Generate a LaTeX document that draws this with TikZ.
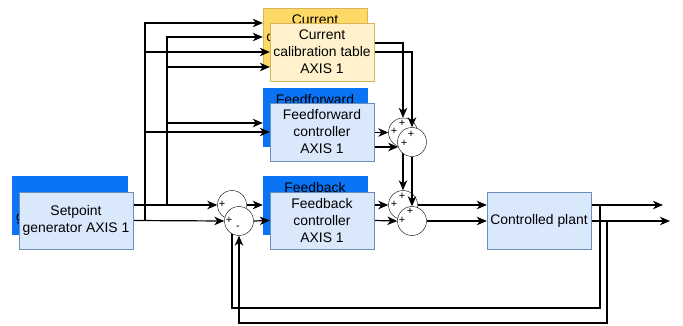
\documentclass[tikz,border=0pt]{standalone}
\usepackage{fontspec}
\setmainfont{Liberation Sans}
\usetikzlibrary{arrows.meta}
\pgfdeclarelayer{bg}
\pgfdeclarelayer{fg}
\pgfsetlayers{bg,main,fg}
\definecolor{paleblue}{HTML}{DAE8FC}
\definecolor{lineblue}{HTML}{6C8EBF}
\definecolor{deepblue}{HTML}{0A74F5}
\definecolor{paleyellow}{HTML}{FFF2CC}
\definecolor{gold}{HTML}{FFD966}
\definecolor{darkyellow}{HTML}{D6B656}

\begin{document}
\begin{tikzpicture}[
  x=1pt, y=-1pt,
  >={Stealth[length=10pt,width=8.5pt,inset=3pt]},
  every node/.style={font=\fontsize{13.9}{17}\selectfont},
  box/.style={rectangle, draw=lineblue, fill=paleblue, align=center, inner sep=0pt, minimum width=104pt, minimum height=57.5pt},
  shadowbox/.style={box, fill=deepblue, draw=deepblue},
  tablebox/.style={box, fill=paleyellow, draw=darkyellow},
  shadowtable/.style={box, fill=gold, draw=darkyellow},
  junction/.style={circle, draw, fill=white, minimum size=29pt, inner sep=0pt},
  pm/.style={font=\fontsize{11}{11}\selectfont, inner sep=0pt},
  wire/.style={->, line width=1.2pt}
]
\useasboundingbox (0,0) rectangle (683,326);

% front copy (AXIS 1)
\begin{pgfonlayer}{fg}
\node[box, minimum width=114pt] (spF) at (76,220.5) {Setpoint\\generator AXIS 1};
\node[tablebox] (tabF) at (322,52) {Current\\calibration table\\AXIS 1};
\node[box] (ffF) at (322,132) {Feedforward\\controller\\AXIS 1};
\node[box] (fbF) at (322,220.5) {Feedback\\controller\\AXIS 1};
\node[box] (plant) at (539,220.5) {Controlled plant};
\node[junction] (errF) at (239,221) {};
\node[junction] (ffsumF) at (412,142) {};
\node[junction] (usumF) at (412,221) {};
\node[pm] (errFa) at ([shift={(-10,-1)}]errF) {+};
\node[pm] (errFb) at ([shift={(-1,7)}]errF) {-};
\node[pm] (ffsumFa) at ([shift={(-1,-8)}]ffsumF) {+};
\node[pm] (ffsumFb) at ([shift={(-8,1)}]ffsumF) {+};
\node[pm] (usumFa) at ([shift={(-2,-10)}]usumF) {+};
\node[pm] (usumFb) at ([shift={(-10,-1)}]usumF) {+};
\end{pgfonlayer}

% back copy (AXIS 2)
\begin{pgfonlayer}{bg}
\node[shadowbox, minimum width=115pt] (spB) at (69.5,205) {\rule{0pt}{18pt}Setpoint\\generator AXIS 2};
\node[shadowtable] (tabB) at (315,37) {Current\\calibration table\\AXIS 2};
\node[shadowbox] (ffB) at (315,117) {Feedforward\\controller\\AXIS 2};
\node[shadowbox] (fbB) at (315,205) {Feedback\\controller\\AXIS 2};
\node[junction] (errB) at (232,205) {};
\node[junction] (ffsumB) at (403,132.5) {};
\node[junction] (usumB) at (403,205) {};
\node[pm] (errBa) at ([shift={(-10,-1)}]errB) {+};
\node[pm] (errBb) at ([shift={(-1,7)}]errB) {-};
\node[pm] (ffsumBa) at ([shift={(-1,-9)}]ffsumB) {+};
\node[pm] (ffsumBb) at ([shift={(-9,-1)}]ffsumB) {+};
\node[pm] (usumBa) at ([shift={(-1,-9)}]usumB) {+};
\node[pm] (usumBb) at ([shift={(-9,-1)}]usumB) {+};
\end{pgfonlayer}

\coordinate (tapF) at (145,220.5);
\coordinate (tapB) at (167,205);
\coordinate (retB) at (600,205);
\coordinate (retF) at (607,221);
\coordinate (outB) at (663,205);
\coordinate (outF) at (670,221);

% setpoints
\draw[wire] (spF.east) -- (errF.west);
\draw[wire] (spB.east) -- (errB.west);
\draw[wire] (tapF) |- ([yshift=14pt]tabB.west);
\draw[wire] (tapF) |- (tabF.west);
\draw[wire] (tapF) |- (ffF.west);
\draw[wire] (tapB) |- (tabB.west);
\draw[wire] (tapB) |- ([yshift=-15pt]tabF.west);
\draw[wire] (tapB) |- ([yshift=-6pt]ffB.west);

% feedforward paths
\draw[wire] ([yshift=-6pt]tabB.east) -| (ffsumB.north);
\draw[wire] (tabF.east) -| (ffsumF.north);
\draw[wire] (ffB.east |- ffsumB.west) -- (ffsumB.west);
\draw[wire] (ffF.east |- ffsumF.200) -- (ffsumF.200);
\draw[wire] (ffsumB.south) -- (usumB.north);
\draw[wire] (ffsumF.south) -- (usumF.north);

% feedback paths
\draw[wire] (errB.east) -- (fbB.west);
\draw[wire] (errF.east) -- (fbF.west);
\draw[wire] (fbB.east) -- (usumB.west);
\draw[wire] (fbF.east) -- (usumF.west);
\draw[wire] (usumB.east) -- (plant.west |- usumB.east);
\draw[wire] (usumF.east) -- (plant.west |- usumF.east);
\draw[wire] (plant.east |- usumB.east) -- (outB);
\draw[wire] (plant.east |- usumF.east) -- (outF);
\draw[wire] (retB) -- ++(0,103) -| (errB.south);
\draw[wire] (retF) -- ++(0,102) -| (errF.south);

\end{tikzpicture}
\end{document}
